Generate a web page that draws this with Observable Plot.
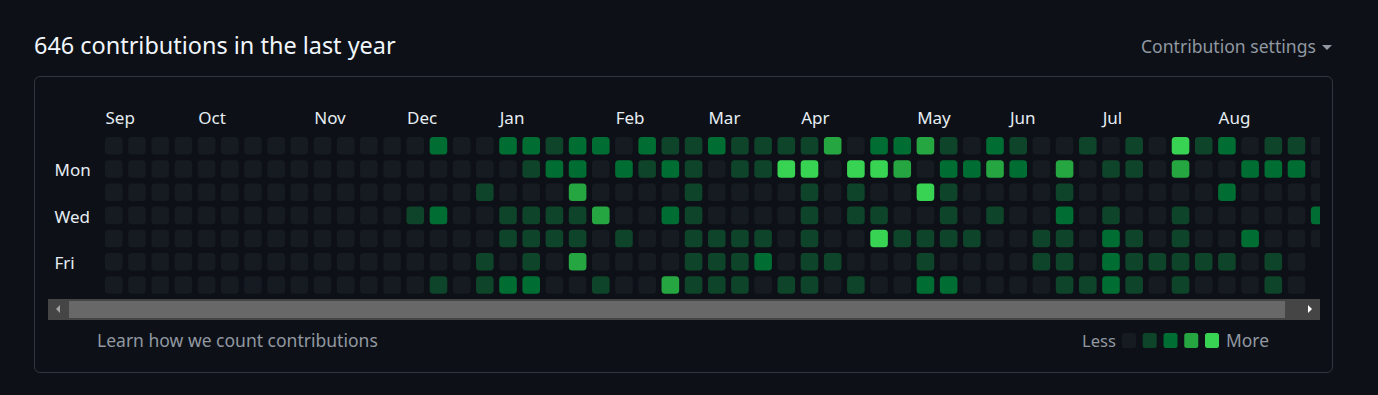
<!DOCTYPE html>
<html>
<head>
<meta charset="utf-8">
<script src="https://cdn.jsdelivr.net/npm/d3@7"></script>
<script src="https://cdn.jsdelivr.net/npm/@observablehq/plot@0.6"></script>
<style>
  html, body { margin:0; padding:0; background:#0d1117; width:1378px; height:395px; overflow:hidden;
    font-family:"Noto Sans", "Open Sans", sans-serif; }
  .t { position:absolute; white-space:nowrap; line-height:1; display:inline-block; }
  #box { position:absolute; left:34px; top:76px; width:1297px; height:295px; border:1px solid #30363d; border-radius:6px; box-sizing:content-box; }
  #clip { position:absolute; left:48px; top:100px; width:1272px; height:199px; overflow:hidden; }
  #clip svg, #legend svg { max-width:none !important; }
  #track { position:absolute; left:48px; top:299px; width:1272px; height:21px; background:#454545; }
  #thumb { position:absolute; left:21px; top:2px; width:1216px; height:17px; background:#686868; }
  #arrL { position:absolute; left:8px; top:6px; width:0; height:0; border-top:4px solid transparent; border-bottom:4px solid transparent; border-right:4px solid #a3a3a3; }
  #arrR { position:absolute; right:8px; top:6px; width:0; height:0; border-top:4px solid transparent; border-bottom:4px solid transparent; border-left:4px solid #ffffff; }
  #caret { position:absolute; left:1322px; top:45px; width:0; height:0; border-left:5px solid transparent; border-right:5px solid transparent; border-top:5px solid #9198a1; }
  #legend { position:absolute; left:1122px; top:333px; }
</style>
</head>
<body>
<div id="title" class="t" style="color:#f0f6fc">646 contributions in the last year</div>
<div id="settings" class="t" style="color:#9198a1">Contribution settings</div>
<div id="caret"></div>
<div id="box"></div>
<div id="clip"></div>
<div id="track"><div id="thumb"></div><div id="arrL"></div><div id="arrR"></div></div>
<div id="learn" class="t" style="color:#9198a1">Learn how we count contributions</div>
<div id="less" class="t" style="color:#9198a1">Less</div>
<div id="legend"></div>
<div id="more" class="t" style="color:#9198a1">More</div>
<script>
// ---- data ----
const dayNames = ["Sun","Mon","Tue","Wed","Thu","Fri","Sat"];
const dayTickLabels = ["Mon","Wed","Fri"];
const monthNames = ["Sep","Oct","Nov","Dec","Jan","Feb","Mar","Apr","May","Jun","Jul","Aug"];
const monthStartWeek = [0,4,9,13,17,22,26,30,35,39,43,48];
const levelColors = ["#161b22","#0e4429","#006d32","#26a641","#39d353"];
const legendLevels = [0,1,2,3,4];

// contribution level (0-4) per week, one array per weekday
const sun = [0,0,0,0,0,0,0,0,0,0,0,0,0, 0,2,0,0,2,2,1,2,2,0,2,1,1,2,1,1,1,1,3,0,2,2,3,1,0,2,1,0,0,1,0,1,0,4,1,2,0,1,1,0];
const mon = [0,0,0,0,0,0,0,0,0,0,0,0,0, 0,0,0,0,0,1,2,2,0,2,1,2,1,0,1,1,4,4,0,4,4,3,0,2,2,3,2,0,3,0,1,1,0,3,0,0,2,2,2,0];
const tue = [0,0,0,0,0,0,0,0,0,0,0,0,0, 0,0,0,1,0,0,0,3,0,0,0,0,1,0,0,0,0,1,0,1,0,0,4,1,0,0,0,0,1,0,0,0,0,0,0,2,0,0,0,0];
const wed = [0,0,0,0,0,0,0,0,0,0,0,0,0, 1,2,0,0,1,1,1,1,3,0,0,2,1,0,0,0,0,1,0,1,1,0,0,1,0,1,0,0,2,0,1,0,0,1,0,0,0,0,0,2];
const thu = [0,0,0,0,0,0,0,0,0,0,0,0,0, 0,0,0,0,1,1,1,1,0,1,0,0,1,1,1,1,0,1,0,0,4,1,1,1,1,0,0,1,1,0,2,1,0,1,0,0,2,0,0,0];
const fri = [0,0,0,0,0,0,0,0,0,0,0,0,0, 0,0,0,1,0,1,0,3,0,0,0,0,1,1,1,2,0,1,1,0,0,0,1,0,0,0,0,1,1,0,2,1,1,1,1,1,0,1,0];
const sat = [0,0,0,0,0,0,0,0,0,0,0,0,0, 0,1,0,1,2,2,0,0,1,0,0,3,1,1,1,0,1,1,0,1,0,0,2,2,0,0,0,0,1,1,2,1,0,1,0,0,0,1,0];

const byDay = [sun, mon, tue, wed, thu, fri, sat];
const cells = byDay.flatMap((arr, d) => arr.map((level, week) => ({week, day: dayNames[d], level})));
const weeks = d3.range(sun.length);

// ---- geometry ----
const pitch = 23.19, cellSize = 17.6;
const pad = 1 - cellSize / pitch;
const x0 = 57, y0 = 37;
const colorScale = {type: "ordinal", domain: legendLevels, range: levelColors};

const chart = Plot.plot({
  width: 1320, height: 199,
  marginTop: y0, marginLeft: x0, marginRight: 0, marginBottom: 0,
  style: {background: "transparent", color: "#e6edf3", fontFamily: "'Noto Sans', sans-serif", fontSize: "17px", maxWidth: "none"},
  x: {type: "band", domain: weeks, range: [x0, x0 + pitch * (weeks.length - pad)], paddingInner: pad, paddingOuter: 0, round: false},
  y: {type: "band", domain: dayNames, range: [y0, y0 + pitch * (dayNames.length - pad)], paddingInner: pad, paddingOuter: 0, round: false},
  color: colorScale,
  marks: [
    Plot.cell(cells, {x: "week", y: "day", fill: "level", rx: 3.5, inset: 0}),
    Plot.axisX({anchor: "top", ticks: monthStartWeek, tickFormat: w => monthNames[monthStartWeek.indexOf(w)],
      tickSize: 0, tickPadding: 0, textAnchor: "start", dx: -cellSize / 2, dy: -14, label: null}),
    Plot.axisY({anchor: "left", ticks: dayTickLabels, tickSize: 0, tickPadding: 0, textAnchor: "start",
      dx: 6 - x0, dy: 1.5, label: null})
  ]
});
chart.style.maxWidth = "none";
document.getElementById("clip").appendChild(chart);

const legendW = 5 * 20.75 - 6.75;
const legend = Plot.plot({
  width: legendW, height: 15, margin: 0,
  style: {background: "transparent", maxWidth: "none"},
  x: {type: "band", domain: legendLevels, range: [0, legendW], paddingInner: 1 - 14 / 20.75, paddingOuter: 0, round: false, axis: null},
  color: colorScale,
  marks: [Plot.cell(legendLevels, {x: d => d, fill: d => d, rx: 2.5, inset: 0})]
});
document.getElementById("legend").appendChild(legend);

// ---- text placement: fit width, place by baseline ----
function place(id, left, width, baseline, f0) {
  const el = document.getElementById(id);
  el.style.fontSize = f0 + "px";
  const w = el.getBoundingClientRect().width;
  const f = f0 * width / w;
  el.style.fontSize = f + "px";
  el.style.left = left + "px";
  el.style.top = (baseline - 0.888 * f) + "px";
}
place("title", 34, 362, 54.5, 21);
place("settings", 1141, 175, 53.5, 17);
place("learn", 97, 281, 348, 16);
place("less", 1082, 34, 347.5, 16);
place("more", 1226, 43, 347.5, 16);
</script>
</body>
</html>
